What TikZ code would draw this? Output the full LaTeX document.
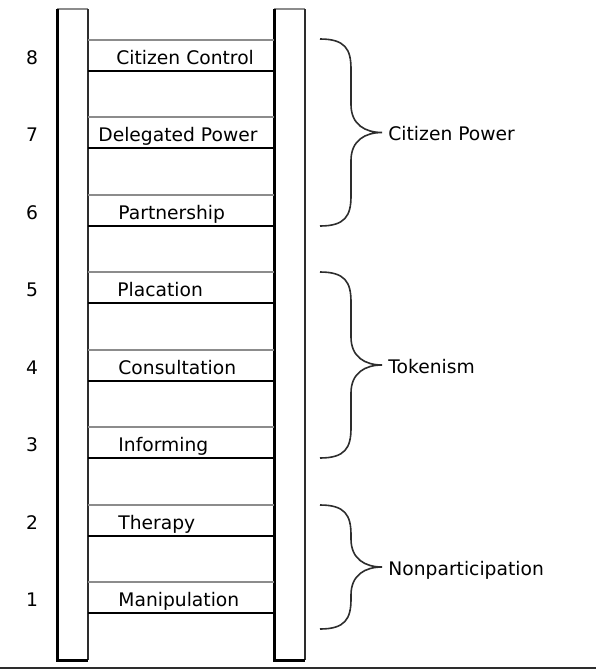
\documentclass[tikz,border=0pt]{standalone}
\usepackage{fontspec}
\setmainfont{DejaVu Sans}
\usetikzlibrary{positioning}
\definecolor{railgray}{RGB}{140,140,140}
\definecolor{edgedark}{RGB}{45,45,45}

\begin{document}
\begin{tikzpicture}[x=0.5pt,y=-0.5pt,
  lbl/.style={font=\fontsize{9.35}{11}\selectfont, inner sep=0pt},
  grayline/.style={railgray, line width=1pt},
  blackline/.style={black, line width=1.1pt},
  bracestyle/.style={edgedark, line width=0.8pt}]
  \useasboundingbox (0,0) rectangle (596,670);
  % Rails
  \foreach \xl/\xr in {57/88, 274/305} {
    \draw[grayline] (\xl,9) -- (\xr,9);
    \draw[edgedark, line width=0.9pt] (\xr,9) -- (\xr,660);
    \draw[black, line width=1.5pt] (\xl,9) -- (\xl,660) -- (\xr,660);
  }
  % Rungs with their labels and numbers
  \foreach \t/\n/\txt/\xs in {40/8/Citizen Control/116, 117/7/Delegated Power/98,
      195/6/Partnership/118, 272/5/Placation/117, 350/4/Consultation/118,
      427/3/Informing/118, 505/2/Therapy/118, 582/1/Manipulation/118} {
    \draw[grayline] (88,\t) -- (274,\t);
    \draw[blackline] (88,\t+31) -- (274,\t+31);
    \node[lbl, anchor=base west] (rung\n) at (\xs,\t+24.5) {\txt};
    \node[lbl, anchor=base] (num\n) at (32,\t+24.5) {\n};
  }
  % Braces
  \foreach \t/\b/\txt/\nm in {39/226/Citizen Power/power, 272/458/Tokenism/token,
      505/629/Nonparticipation/nonpart} {
    \pgfmathsetmacro\m{(\t+\b)/2}
    \draw[bracestyle] (320,\t) .. controls (345,\t) and (351,\t+10) .. (351,\t+30)
      -- (351,\m-28) .. controls (351,\m-8) and (365,\m) .. (382,\m)
      .. controls (365,\m) and (351,\m+8) .. (351,\m+28)
      -- (351,\b-30) .. controls (351,\b-10) and (345,\b) .. (320,\b);
    \coordinate (tip\nm) at (382,\m);
    \node[lbl, right=3pt of tip\nm, anchor=mid west, yshift=-1.5pt] (grp\nm) {\txt};
  }
  % Bottom edge
  \draw[edgedark, line width=1pt] (0,668) -- (596,668);
\end{tikzpicture}
\end{document}
